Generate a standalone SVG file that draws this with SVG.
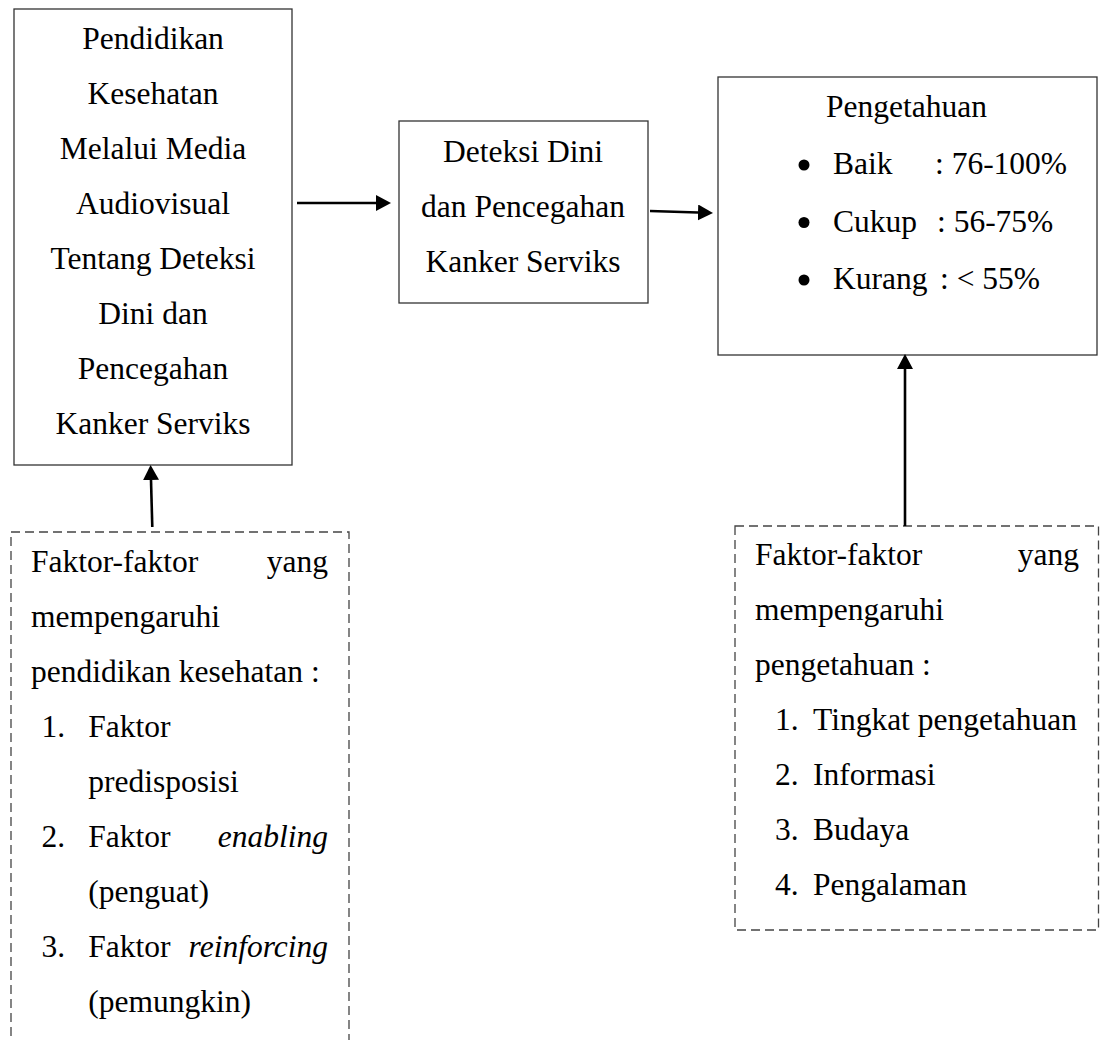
<svg xmlns="http://www.w3.org/2000/svg" width="1100" height="1040" viewBox="0 0 1100 1040">
<style>
text { font-family: "Liberation Serif", "Times New Roman", serif; font-size: 31.5px; fill: #000; }
.c { text-anchor: middle; }
.e { text-anchor: end; }
.i { font-style: italic; }
.box { fill: #fff; stroke: #333; stroke-width: 1.3; }
.dash { fill: none; stroke: #444; stroke-width: 1.3; stroke-dasharray: 9 5; }
.arr { stroke: #000; stroke-width: 2.6; fill: none; marker-end: url(#ah); }
</style>
<defs>
<marker id="ah" viewBox="0 0 15 16" refX="0" refY="8" markerWidth="15" markerHeight="16" markerUnits="userSpaceOnUse" orient="auto">
<path d="M0,0 L15,8 L0,16 z" fill="#000"/>
</marker>
</defs>
<rect width="1100" height="1040" fill="#fff"/>

<g id="node-pendidikan">
<rect class="box" x="14" y="9" width="278" height="456"/>
<text class="c" x="153" y="49">Pendidikan</text>
<text class="c" x="153" y="104">Kesehatan</text>
<text class="c" x="153" y="159">Melalui Media</text>
<text class="c" x="153" y="214">Audiovisual</text>
<text class="c" x="153" y="269">Tentang Deteksi</text>
<text class="c" x="153" y="324">Dini dan</text>
<text class="c" x="153" y="379">Pencegahan</text>
<text class="c" x="153" y="434">Kanker Serviks</text>
</g>

<g id="node-deteksi">
<rect class="box" x="399" y="121" width="249" height="182"/>
<text class="c" x="523" y="162">Deteksi Dini</text>
<text class="c" x="523" y="217">dan Pencegahan</text>
<text class="c" x="523" y="272">Kanker Serviks</text>
</g>

<g id="node-pengetahuan">
<rect class="box" x="718" y="77" width="379" height="278"/>
<text x="826" y="117">Pengetahuan</text>
<circle cx="804" cy="165" r="5.5" fill="#000"/>
<circle cx="804" cy="222.5" r="5.5" fill="#000"/>
<circle cx="804" cy="280" r="5.5" fill="#000"/>
<text x="833" y="174">Baik<tspan x="935">: 76-100%</tspan></text>
<text x="833" y="231.5">Cukup<tspan x="937">: 56-75%</tspan></text>
<text x="833" y="289">Kurang<tspan x="940">: &lt; 55%</tspan></text>
</g>

<g id="node-faktor-pendidikan">
<rect class="dash" x="11" y="532" width="338" height="530"/>
<text x="31" y="571.5">Faktor-faktor</text>
<text class="e" x="328" y="571.5">yang</text>
<text x="31" y="626.5">mempengaruhi</text>
<text x="31" y="681.5">pendidikan kesehatan :</text>
<text x="41.5" y="736.5">1.</text>
<text x="88.3" y="736.5">Faktor</text>
<text x="88.3" y="791.5">predisposisi</text>
<text x="41.5" y="846.5">2.</text>
<text x="88.3" y="846.5">Faktor</text>
<text class="e i" x="328" y="846.5">enabling</text>
<text x="88.3" y="901.5">(penguat)</text>
<text x="41.5" y="956.5">3.</text>
<text x="88.3" y="956.5">Faktor</text>
<text class="e i" x="328" y="956.5">reinforcing</text>
<text x="88.3" y="1012">(pemungkin)</text>
</g>

<g id="node-faktor-pengetahuan">
<rect class="dash" x="735" y="526" width="363.5" height="404"/>
<text x="755" y="565">Faktor-faktor</text>
<text class="e" x="1079" y="565">yang</text>
<text x="755" y="620">mempengaruhi</text>
<text x="755" y="675">pengetahuan :</text>
<text x="775" y="730">1.</text>
<text x="813" y="730">Tingkat pengetahuan</text>
<text x="775" y="785">2.</text>
<text x="813" y="785">Informasi</text>
<text x="775" y="840">3.</text>
<text x="813" y="840">Budaya</text>
<text x="775" y="895">4.</text>
<text x="813" y="895">Pengalaman</text>
</g>

<g id="connectors">
<line class="arr" x1="297" y1="203" x2="376" y2="203"/>
<line class="arr" x1="650" y1="211" x2="698" y2="212.5"/>
<line class="arr" x1="905" y1="526" x2="905" y2="369"/>
<line class="arr" x1="152.3" y1="527" x2="151" y2="480"/>
</g>
</svg>
